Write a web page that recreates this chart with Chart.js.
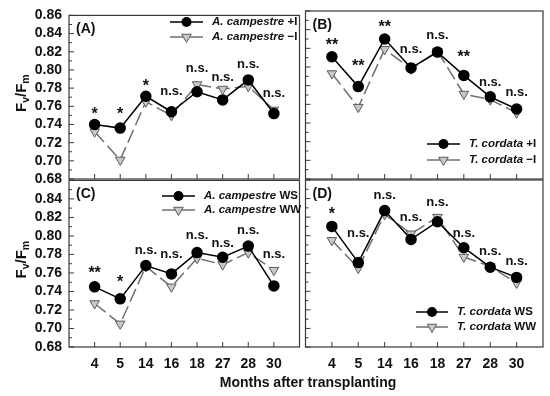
<!DOCTYPE html>
<html>
<head>
<meta charset="utf-8">
<script src="https://cdn.jsdelivr.net/npm/chart.js@4.4.0/dist/chart.umd.min.js"></script>
<style>
  body { margin: 0; background: #fff; width: 550px; height: 396px; position: relative; overflow: hidden; font-family: "Liberation Sans", Arial, sans-serif; }
  canvas { position: absolute; }
  #xtitle { position: absolute; left: 108px; width: 400px; top: 374px; text-align: center; font: bold 14px "Liberation Sans", Arial, sans-serif; color: #111; }
</style>
</head>
<body>
<canvas id="cA" width="306" height="195" style="left:0;top:0"></canvas>
<canvas id="cB" width="251" height="195" style="left:299px;top:0"></canvas>
<canvas id="cC" width="306" height="231" style="left:0;top:165px"></canvas>
<canvas id="cD" width="251" height="231" style="left:299px;top:165px"></canvas>
<div id="xtitle">Months after transplanting</div>
<script>
// months after transplanting (x categories)
const months = ['4', '5', '14', '16', '18', '27', '28', '30'];
const yTicks = [0.68, 0.70, 0.72, 0.74, 0.76, 0.78, 0.80, 0.82, 0.84, 0.86];

// Fv/Fm values
const aPlusI  = [0.740, 0.736, 0.771, 0.754, 0.776, 0.767, 0.789, 0.752];
const aMinusI = [0.732, 0.701, 0.765, 0.750, 0.784, 0.779, 0.782, 0.756];
const bPlusI  = [0.811, 0.779, 0.830, 0.799, 0.816, 0.791, 0.768, 0.755];
const bMinusI = [0.793, 0.757, 0.819, 0.798, 0.817, 0.771, 0.765, 0.751];
const cWS     = [0.745, 0.732, 0.768, 0.759, 0.782, 0.777, 0.789, 0.746];
const cWW     = [0.727, 0.705, 0.767, 0.745, 0.776, 0.769, 0.782, 0.763];
const dWS     = [0.810, 0.771, 0.827, 0.796, 0.815, 0.787, 0.766, 0.755];
const dWW     = [0.795, 0.765, 0.823, 0.802, 0.820, 0.777, 0.767, 0.749];

// significance marks and the level (in Fv/Fm units) they sit at
const sigA  = ['*', '*', '*', 'n.s.', 'n.s.', 'n.s.', 'n.s.', 'n.s.'];
const sigAy = [0.756, 0.756, 0.787, 0.777, 0.802, 0.792, 0.807, 0.775];
const sigB  = ['**', '**', '**', 'n.s.', 'n.s.', '**', 'n.s.', 'n.s.'];
const sigBy = [0.828, 0.805, 0.847, 0.819, 0.834, 0.815, 0.784, 0.773];
const sigC  = ['**', '*', 'n.s.', 'n.s.', 'n.s.', 'n.s.', 'n.s.', 'n.s.'];
const sigCy = [0.764, 0.755, 0.785, 0.781, 0.801, 0.792, 0.806, 0.781];
const sigD  = ['*', 'n.s.', 'n.s.', 'n.s.', 'n.s.', 'n.s.', 'n.s.', 'n.s.'];
const sigDy = [0.828, 0.803, 0.844, 0.820, 0.836, 0.803, 0.783, 0.773];

const FONT = '"Liberation Sans", Arial, sans-serif';
const AXIS = '#3a3a3a';

function drawCircle(ctx, x, y) {
    ctx.beginPath();
    ctx.arc(x, y, 5, 0, Math.PI * 2);
    ctx.fillStyle = '#000';
    ctx.fill();
}

function drawTri(ctx, x, y) {
    const r = 5.5;
    ctx.beginPath();
    ctx.moveTo(x - r * 0.866, y - r * 0.5);
    ctx.lineTo(x + r * 0.866, y - r * 0.5);
    ctx.lineTo(x, y + r);
    ctx.closePath();
    ctx.fillStyle = '#c8c8c8';
    ctx.fill();
    ctx.strokeStyle = '#5a5a5a';
    ctx.lineWidth = 1;
    ctx.stroke();
}

function seg(ctx, x1, y1, x2, y2) {
    ctx.beginPath();
    ctx.moveTo(x1, y1);
    ctx.lineTo(x2, y2);
    ctx.stroke();
}

// frame, inward ticks, significance marks, legend, panel letter, y title
const panelPlugin = {
    id: 'panel',
    afterDraw(chart, args, o) {
        const ctx = chart.ctx;
        const a = chart.chartArea;
        const x = chart.scales.x, y = chart.scales.y;
        ctx.save();
        ctx.setLineDash([]);
        ctx.strokeStyle = AXIS;
        ctx.lineWidth = 1.2;
        ctx.strokeRect(a.left, a.top, a.right - a.left, a.bottom - a.top);

        ctx.lineWidth = 1;
        for (let i = 0; i <= 18; i++) {
            const py = y.getPixelForValue(0.68 + i * 0.01);
            seg(ctx, a.left, py, a.left + (i % 2 === 0 ? 5 : 3), py);
        }
        months.forEach((m, i) => {
            const px = x.getPixelForValue(i);
            seg(ctx, px, a.bottom, px, a.bottom - 5);
        });

        // significance labels
        ctx.fillStyle = '#111';
        ctx.textAlign = 'center';
        ctx.textBaseline = 'alphabetic';
        o.sig.forEach((s, i) => {
            const px = x.getPixelForValue(i);
            const py = y.getPixelForValue(o.sigY[i]);
            if (s.startsWith('*')) {
                ctx.font = 'bold 16px ' + FONT;
                ctx.fillText(s, px, py + 9);
            } else {
                ctx.font = 'bold 13px ' + FONT;
                ctx.fillText(s, px, py + 4);
            }
        });

        // panel letter
        ctx.textAlign = 'left';
        ctx.textBaseline = 'middle';
        ctx.font = 'bold 14px ' + FONT;
        ctx.fillText(o.letter, a.left + 7, a.top + 14);

        // legend
        o.legend.forEach((lab, k) => {
            const ly = o.legendY[k];
            const [x1, x2] = o.legendX;
            const mx = (x1 + x2) / 2;
            ctx.lineWidth = 1.5;
            ctx.strokeStyle = k === 0 ? '#000' : '#707070';
            seg(ctx, x1, ly, x2, ly);
            if (k === 0) drawCircle(ctx, mx, ly); else drawTri(ctx, mx, ly);
            ctx.fillStyle = '#111';
            ctx.textBaseline = 'middle';
            ctx.font = 'italic bold 11.5px ' + FONT;
            ctx.fillText(lab[0], x2 + 9, ly);
            const w = ctx.measureText(lab[0]).width;
            ctx.font = 'bold 11.5px ' + FONT;
            ctx.fillText(lab[1], x2 + 9 + w, ly);
        });

        // y axis title Fv/Fm
        if (o.yTitle) {
            const parts = [['F', 15, 0], ['v', 10.5, 4], ['/F', 15, 0], ['m', 10.5, 4]];
            ctx.translate(22, (a.top + a.bottom) / 2 - 4);
            ctx.rotate(-Math.PI / 2);
            let total = 0;
            parts.forEach(p => { ctx.font = 'bold ' + p[1] + 'px ' + FONT; total += ctx.measureText(p[0]).width; });
            let cx = -total / 2;
            ctx.textAlign = 'left';
            parts.forEach(p => {
                ctx.font = 'bold ' + p[1] + 'px ' + FONT;
                ctx.fillText(p[0], cx, p[2]);
                cx += ctx.measureText(p[0]).width;
            });
        }
        ctx.restore();
    }
};

function makePanel(id, plus, minus, opts) {
    const toXY = arr => arr.map((v, i) => ({ x: i, y: v }));
    return new Chart(document.getElementById(id), {
        type: 'line',
        data: {
            datasets: [{
                data: toXY(plus),
                borderColor: '#000',
                borderWidth: 1.5,
                pointStyle: 'circle',
                pointRadius: 5,
                pointBackgroundColor: '#000',
                pointBorderColor: '#000',
                tension: 0
            }, {
                data: toXY(minus),
                borderColor: '#707070',
                borderWidth: 1.5,
                borderDash: [14, 5],
                pointStyle: 'triangle',
                rotation: 180,
                pointRadius: 5.5,
                pointBackgroundColor: '#c8c8c8',
                pointBorderColor: '#5a5a5a',
                pointBorderWidth: 1,
                tension: 0
            }]
        },
        options: {
            responsive: false,
            animation: false,
            devicePixelRatio: 1,
            layout: { padding: opts.padding },
            plugins: {
                legend: { display: false },
                tooltip: { enabled: false },
                panel: opts.panel
            },
            scales: {
                x: {
                    type: 'linear',
                    min: -1,
                    max: 8,
                    grid: { display: false, drawTicks: false },
                    border: { display: false },
                    afterBuildTicks: s => { s.ticks = months.map((m, i) => ({ value: i })); },
                    afterFit: s => { s.height = opts.xHeight; },
                    ticks: {
                        display: opts.xLabels,
                        autoSkip: false,
                        padding: 9,
                        color: '#111',
                        font: { family: FONT, size: 14, weight: 'bold' },
                        maxRotation: 0,
                        callback: v => months[v] ?? ''
                    }
                },
                y: {
                    min: 0.68,
                    max: 0.86,
                    grid: { display: false, drawTicks: false },
                    border: { display: false },
                    afterBuildTicks: s => { s.ticks = yTicks.filter(v => v <= opts.yTop + 1e-9).map(v => ({ value: v })); },
                    afterFit: s => { s.width = opts.yWidth; },
                    ticks: {
                        display: opts.yLabels,
                        autoSkip: false,
                        padding: 7,
                        color: '#111',
                        font: { family: FONT, size: 14, weight: 'bold' },
                        callback: v => v.toFixed(2)
                    }
                }
            }
        },
        plugins: [panelPlugin]
    });
}

makePanel('cA', aPlusI, aMinusI, {
    padding: { top: 11, right: 1, bottom: 0, left: 0 },
    xHeight: 16, xLabels: false, yWidth: 69, yLabels: true, yTop: 0.86,
    panel: {
        letter: '(A)', sig: sigA, sigY: sigAy, yTitle: true,
        legend: [['A. campestre', ' +I'], ['A. campestre', ' \u2212I']],
        legendX: [170, 203], legendY: [22, 37]
    }
});

makePanel('cB', bPlusI, bMinusI, {
    padding: { top: 11, right: 7, bottom: 0, left: 0 },
    xHeight: 16, xLabels: false, yWidth: 6, yLabels: false, yTop: 0.86,
    panel: {
        letter: '(B)', sig: sigB, sigY: sigBy, yTitle: false,
        legend: [['T. cordata', ' +I'], ['T. cordata', ' \u2212I']],
        legendX: [128, 161], legendY: [144, 160]
    }
});

makePanel('cC', cWS, cWW, {
    padding: { top: 15, right: 1, bottom: 0, left: 0 },
    xHeight: 49, xLabels: true, yWidth: 69, yLabels: true, yTop: 0.84,
    panel: {
        letter: '(C)', sig: sigC, sigY: sigCy, yTitle: true,
        legend: [['A. campestre', ' WS'], ['A. campestre', ' WW']],
        legendX: [162, 195], legendY: [31, 45]
    }
});

makePanel('cD', dWS, dWW, {
    padding: { top: 15, right: 7, bottom: 0, left: 0 },
    xHeight: 49, xLabels: true, yWidth: 6, yLabels: false, yTop: 0.84,
    panel: {
        letter: '(D)', sig: sigD, sigY: sigDy, yTitle: false,
        legend: [['T. cordata', ' WS'], ['T. cordata', ' WW']],
        legendX: [117, 149], legendY: [147, 162]
    }
});
</script>
</body>
</html>
